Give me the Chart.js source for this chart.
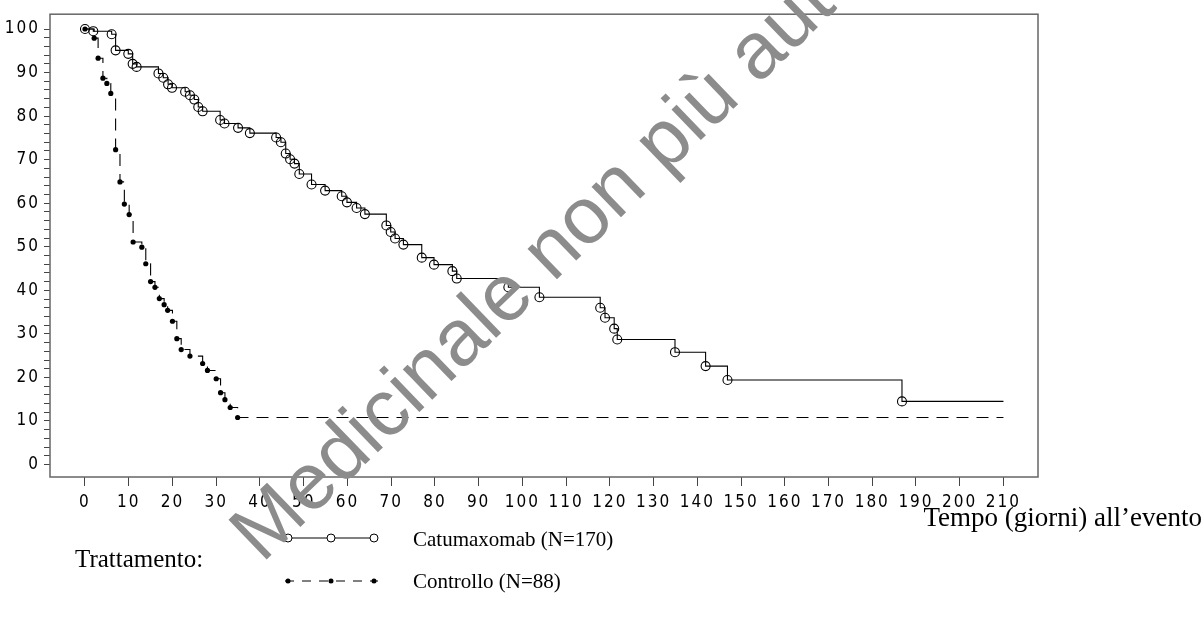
<!DOCTYPE html>
<html>
<head>
<meta charset="utf-8">
<script src="https://cdn.jsdelivr.net/npm/chart.js@4.4.1/dist/chart.umd.min.js"></script>
<style>
  html, body { margin: 0; padding: 0; background: #fff; }
  #wrap { position: relative; width: 1204px; height: 621px; }
</style>
</head>
<body>
<div id="wrap"><canvas id="kmChart" width="1204" height="621"></canvas></div>
<script>
// Tempo (giorni) e sopravvivenza (%)
const catTime = [0, 1.9, 6.1, 7.0, 9.9, 10.9, 11.8, 16.8, 17.9, 19.0, 19.9, 22.9, 24.0, 25.0, 25.9, 26.9,
    30.9, 31.9, 35.0, 37.7, 43.7, 44.8, 45.9, 46.9, 47.9, 49.0, 51.8, 54.9, 58.7, 59.9, 62.1, 64.0,
    68.9, 69.9, 70.9, 72.8, 77.0, 79.8, 84.0, 85.0, 96.8, 103.9, 117.8, 118.9, 121.0, 121.7, 134.9,
    141.9, 146.9, 186.8, 210];
const catSurv = [100, 99.5, 98.8, 95.1, 94.3, 92.0, 91.3, 89.8, 88.8, 87.3, 86.5, 85.6, 84.8, 83.8, 82.1, 81.1,
    79.1, 78.3, 77.3, 76.1, 75.1, 74.0, 71.4, 70.1, 69.1, 66.7, 64.3, 62.9, 61.6, 60.2, 58.9, 57.5,
    54.9, 53.4, 51.9, 50.5, 47.5, 45.9, 44.4, 42.7, 40.7, 38.4, 36.0, 33.7, 31.2, 28.7, 25.8,
    22.6, 19.4, 14.5, 14.5];

const ctrlTime = [0, 2.1, 3.0, 4.1, 5.0, 5.9, 7.0, 8.0, 9.0, 10.1, 11.0, 13.0, 13.9, 15.0, 16.0, 17.0,
    18.1, 18.9, 20.0, 21.0, 22.0, 24.0, 26.9, 28.0, 30.0, 31.0, 32.0, 33.2, 34.9, 210];
const ctrlSurv = [100, 97.9, 93.3, 88.7, 87.5, 85.2, 72.3, 64.9, 59.8, 57.4, 51.1, 49.9, 46.1, 42.0, 40.7, 38.1,
    36.7, 35.4, 32.9, 28.9, 26.4, 24.9, 23.2, 21.6, 19.7, 16.5, 14.9, 13.1, 10.8, 10.8];

const xTicks = [0, 10, 20, 30, 40, 50, 60, 70, 80, 90, 100, 110, 120, 130, 140, 150, 160, 170, 180, 190, 200, 210];
const yTicks = [0, 10, 20, 30, 40, 50, 60, 70, 80, 90, 100];
const yMinor = [2, 4, 6, 8, 12, 14, 16, 18, 22, 24, 26, 28, 32, 34, 36, 38, 42, 44, 46, 48,
    52, 54, 56, 58, 62, 64, 66, 68, 72, 74, 76, 78, 82, 84, 86, 88, 92, 94, 96, 98];

const seriesLabels = ['Catumaxomab (N=170)', 'Controllo (N=88)'];
const xTitle = 'Tempo (giorni) all\u2019evento';
const legendTitle = 'Trattamento:';
const watermark = 'Medicinale non più autorizzato';

const toXY = (xs, ys) => xs.map((x, i) => ({ x: x, y: ys[i] }));
const lastHidden = (r) => (ctx) => ctx.dataIndex === ctx.dataset.data.length - 1 ? 0 : r;

const tickFont = { family: "'Liberation Sans Narrow', 'DejaVu Sans Condensed', sans-serif", size: 17 };
const serif = "'Liberation Serif', 'Times New Roman', serif";

const framePlugin = {
    id: 'frame',
    beforeDraw(chart) {
        chart.ctx.letterSpacing = '2px';
    },
    beforeDatasetsDraw(chart) {
        chart.ctx.letterSpacing = '0px';
    },
    afterDraw(chart) {
        const { ctx, chartArea: a } = chart;
        ctx.save();
        ctx.letterSpacing = '0px';
        ctx.strokeStyle = '#666';
        ctx.lineWidth = 1.5;
        ctx.strokeRect(a.left, a.top, a.right - a.left, a.bottom - a.top);

        // legenda
        ctx.fillStyle = '#000';
        ctx.textBaseline = 'middle';
        ctx.textAlign = 'right';
        ctx.font = '27px ' + serif;
        ctx.fillText(xTitle, 1202, 519);
        ctx.textAlign = 'left';
        ctx.font = '25px ' + serif;
        ctx.fillText(legendTitle, 75, 560);
        ctx.font = '21px ' + serif;
        ctx.fillText(seriesLabels[0], 413, 540);
        ctx.fillText(seriesLabels[1], 413, 582);

        ctx.strokeStyle = '#000';
        ctx.lineWidth = 1;
        ctx.beginPath();
        ctx.moveTo(285, 538); ctx.lineTo(378, 538);
        ctx.stroke();
        [288, 331, 374].forEach(x => {
            ctx.beginPath();
            ctx.arc(x, 538, 4, 0, Math.PI * 2);
            ctx.fillStyle = '#fff';
            ctx.fill();
            ctx.stroke();
        });
        ctx.setLineDash([9, 8]);
        ctx.beginPath();
        ctx.moveTo(285, 581); ctx.lineTo(378, 581);
        ctx.stroke();
        ctx.setLineDash([]);
        ctx.fillStyle = '#000';
        [288, 331, 374].forEach(x => {
            ctx.beginPath();
            ctx.arc(x, 581, 2.5, 0, Math.PI * 2);
            ctx.fill();
        });

        // filigrana
        ctx.translate(262, 564);
        ctx.rotate(-44 * Math.PI / 180);
        ctx.font = '80px "Liberation Sans", Arial, sans-serif';
        ctx.textAlign = 'left';
        ctx.textBaseline = 'alphabetic';
        ctx.fillStyle = '#8c8c8c';
        ctx.fillText(watermark, 0, 0);
        ctx.restore();
    }
};

new Chart(document.getElementById('kmChart'), {
    type: 'line',
    data: {
        datasets: [{
            label: seriesLabels[0],
            data: toXY(catTime, catSurv),
            stepped: 'before',
            borderColor: '#000',
            borderWidth: 1.1,
            pointStyle: 'circle',
            pointRadius: lastHidden(4.5),
            pointBorderColor: '#000',
            pointBorderWidth: 1.1,
            pointBackgroundColor: 'rgba(255,255,255,0)'
        }, {
            label: seriesLabels[1],
            data: toXY(ctrlTime, ctrlSurv),
            stepped: 'before',
            borderColor: '#000',
            borderWidth: 1.1,
            borderDash: [12, 8],
            pointStyle: 'circle',
            pointRadius: lastHidden(2.6),
            pointBorderWidth: 0,
            pointBackgroundColor: '#000'
        }]
    },
    options: {
        responsive: false,
        animation: false,
        devicePixelRatio: 1,
        layout: { padding: { left: 0, top: 13, right: 166, bottom: 100 } },
        plugins: {
            legend: { display: false },
            tooltip: { enabled: false }
        },
        scales: {
            x: {
                type: 'linear',
                min: -8,
                max: 217.9,
                afterBuildTicks: (s) => { s.ticks = xTicks.map(v => ({ value: v })); },
                afterFit: (s) => { s.height = 44; },
                grid: { drawOnChartArea: false, drawTicks: true, tickLength: 9, color: '#444' },
                border: { display: false },
                ticks: { font: tickFont, color: '#000', padding: 6, maxRotation: 0, autoSkip: false }
            },
            y: {
                type: 'linear',
                min: -2.86,
                max: 103.4,
                afterBuildTicks: (s) => {
                    s.ticks = yTicks.concat(yMinor).sort((p, q) => p - q).map(v => ({ value: v }));
                },
                afterFit: (s) => { s.width = 50; },
                grid: { drawOnChartArea: false, drawTicks: true, tickLength: 6, color: '#444' },
                border: { display: false },
                ticks: {
                    font: tickFont, color: '#000', padding: 4, autoSkip: false,
                    callback: (v) => yTicks.includes(v) ? String(v) : ''
                }
            }
        }
    },
    plugins: [framePlugin]
});
</script>
</body>
</html>
